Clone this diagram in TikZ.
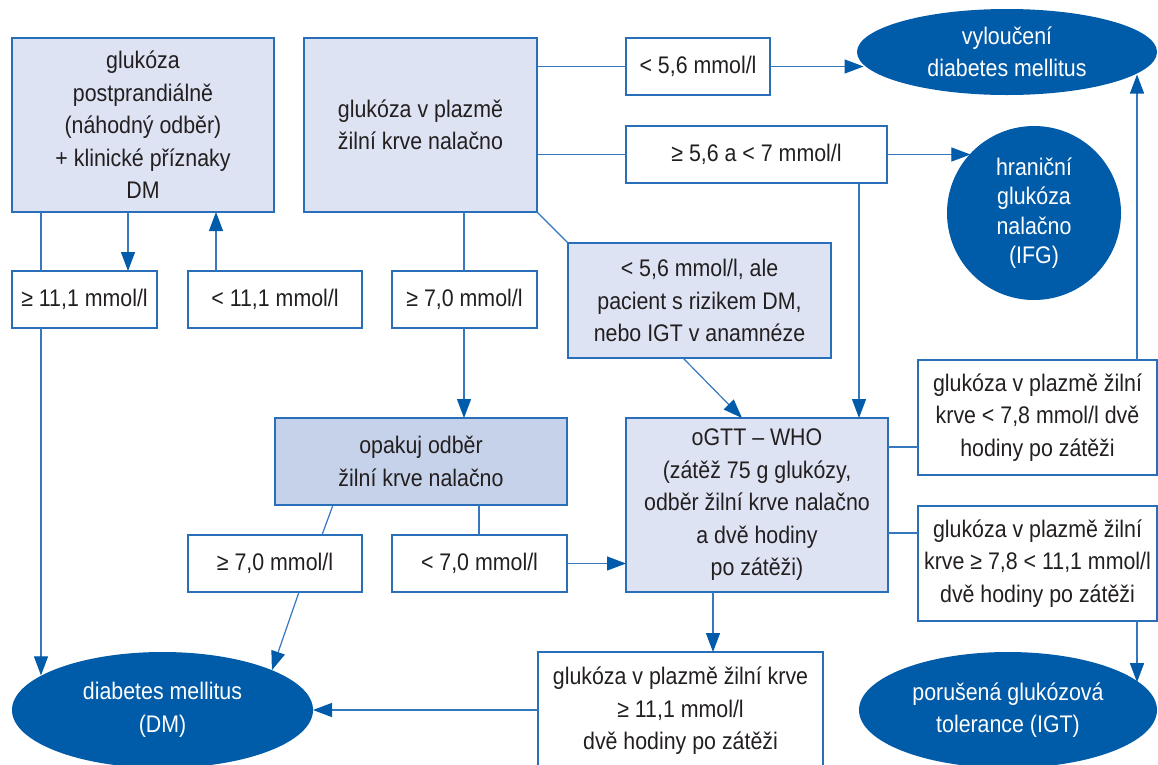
\documentclass[tikz,border=0pt]{standalone}
\usepackage{fontspec}
\setmainfont{Liberation Sans}[FakeStretch=0.89]
\usetikzlibrary{arrows.meta,shapes.geometric}
\definecolor{lnc}{RGB}{52,120,190}
\definecolor{bdc}{RGB}{40,110,185}
\definecolor{arc}{RGB}{0,91,170}
\definecolor{ovalc}{RGB}{0,91,168}
\definecolor{lightfill}{RGB}{221,227,242}
\definecolor{darkfill}{RGB}{198,210,233}
\definecolor{textc}{RGB}{35,31,32}
\begin{document}
\begin{tikzpicture}[x=1pt,y=-1pt,
  txt/.style={font=\fontsize{24pt}{32.5pt}\selectfont, text=textc, align=center},
  box/.style={txt, draw=bdc, line width=1.4pt, fill=white, rectangle, inner sep=2pt, outer sep=0pt},
  lbox/.style={box, fill=lightfill},
  dbox/.style={box, fill=darkfill},
  oval/.style={ellipse, fill=ovalc, draw=none, text=white, font=\fontsize{24pt}{32.5pt}\selectfont, align=center, inner sep=0pt, outer sep=0pt},
  conn/.style={draw=lnc, line width=1.2pt},
  arr/.style={conn, -{Triangle[length=19pt,width=14pt,color=arc]}}
]
\useasboundingbox (0,0) rectangle (1158,764);
\fill[white] (0,0) rectangle (1158,764);
\clip (0,0) rectangle (1158,764);

% nodes
\node[lbox, minimum width=262, minimum height=174] (A) at (143,125) {glukóza\\postprandiálně\\(náhodný odběr)\\+ klinické příznaky\\DM};
\node[lbox, minimum width=233, minimum height=174] (B) at (420.5,125) {glukóza v plazmě\\žilní krve nalačno};
\node[box, minimum width=144, minimum height=57] (D1) at (698,66.5) {< 5,6 mmol/l};
\node[box, minimum width=261, minimum height=57] (D2) at (756.5,154.5) {≥ 5,6 a < 7 mmol/l};
\node[oval, minimum width=300, minimum height=86] (E1) at (1007,52) {vyloučení\\diabetes mellitus};
\node[oval, circle, minimum size=174, font=\fontsize{24pt}{29.5pt}\selectfont] (E2) at (1034,213) {hraniční\\glukóza\\nalačno\\(IFG)};
\node[box, minimum width=145, minimum height=57] (C1) at (84.5,299.5) {≥ 11,1 mmol/l};
\node[box, minimum width=174, minimum height=57] (C2) at (275,299.5) {< 11,1 mmol/l};
\node[box, minimum width=145, minimum height=57] (C3) at (464.5,299.5) {≥ 7,0 mmol/l};
\node[lbox, minimum width=263, minimum height=115] (P) at (699.5,300.5) {< 5,6 mmol/l, ale\\pacient s rizikem DM,\\nebo IGT v anamnéze};
\node[dbox, minimum width=292, minimum height=87] (O) at (421,461.5) {opakuj odběr\\žilní krve nalačno};
\node[lbox, minimum width=262, minimum height=174] (G) at (757,505) {oGTT – WHO\\(zátěž 75 g glukózy,\\odběr žilní krve nalačno\\a dvě hodiny\\po zátěži)};
\node[box, minimum width=239, minimum height=115] (R1) at (1037.5,417.5) {glukóza v plazmě žilní\\krve < 7,8 mmol/l dvě\\hodiny po zátěži};
\node[box, minimum width=239, minimum height=115] (R2) at (1037.5,563.5) {glukóza v plazmě žilní\\krve ≥ 7,8 < 11,1 mmol/l\\dvě hodiny po zátěži};
\node[box, minimum width=174, minimum height=57] (C4) at (275,563.5) {≥ 7,0 mmol/l};
\node[box, minimum width=175, minimum height=57] (C5) at (479.5,563.5) {< 7,0 mmol/l};
\node[box, minimum width=285, minimum height=118] (R3) at (680.5,711) {glukóza v plazmě žilní krve\\≥ 11,1 mmol/l\\dvě hodiny po zátěži};
\node[oval, minimum width=301, minimum height=116] (DM) at (162.5,710) {diabetes mellitus\\(DM)};
\node[oval, minimum width=298, minimum height=116] (IGT) at (1008,710) {porušená glukózová\\tolerance (IGT)};

% helper coordinates
\coordinate (a1) at ([xshift=116]A.south west);
\coordinate (a2) at ([xshift=29]A.south west);
\coordinate (a3) at ([xshift=204]A.south west);
\coordinate (b1) at ([xshift=160]B.south west);
\coordinate (d2s) at ([xshift=233]D2.south west);
\coordinate (ps) at ([xshift=115]P.south west);
\coordinate (gn) at ([xshift=116]G.north west);
\coordinate (os1) at ([xshift=58]O.south west);
\coordinate (c4n) at ([xshift=134]C4.north west);
\coordinate (c4s) at ([xshift=111]C4.south west);
\coordinate (os2) at ([xshift=204]O.south west);
\coordinate (gs) at ([xshift=87]G.south west);
\coordinate (ge1) at ([yshift=-29]G.north east);
\coordinate (ge2) at ([yshift=-115]G.north east);
\coordinate (r1n) at ([xshift=219]R1.north west);
\coordinate (r2s) at ([xshift=219]R2.south west);

% connectors
\draw[arr] (a1) -- (a1 |- C1.north);
\draw[conn] (a2) -- (a2 |- C1.north);
\draw[arr] (a2 |- C1.south) -- (a2 |- DM.164.3);
\draw[arr] (a3 |- C2.north) -- (a3);
\draw[conn] (b1) -- (b1 |- C3.north);
\draw[arr] (b1 |- C3.south) -- (b1 |- O.north);
\draw[conn] (B.east |- D1.west) -- (D1.west);
\draw[arr] (D1.east) -- (D1.east -| E1.185.9);
\draw[conn] (B.east |- D2.west) -- (D2.west);
\draw[arr] (D2.east) -- (D2.east -| E2.137.7);
\draw[arr] (d2s) -- (d2s |- G.north);
\draw[conn] (B.south east) -- (P.north west);
\draw[arr] (ps) -- (gn);
\draw[conn] (os1) -- (c4n);
\draw[arr] (c4s) -- (DM.20.7);
\draw[conn] (os2) -- (os2 |- C5.north);
\draw[arr] (C5.east) -- (C5.east -| G.west);
\draw[arr] (gs) -- (gs |- R3.north);
\draw[arr] (R3.west |- DM.east) -- (DM.east);
\draw[conn] (ge1) -- (ge1 -| R1.west);
\draw[conn] (ge2) -- (ge2 -| R2.west);
\draw[arr] (r1n) -- (r1n |- E1.350.6);
\draw[arr] (r2s) -- (r2s |- IGT.12.7);
\end{tikzpicture}
\end{document}
